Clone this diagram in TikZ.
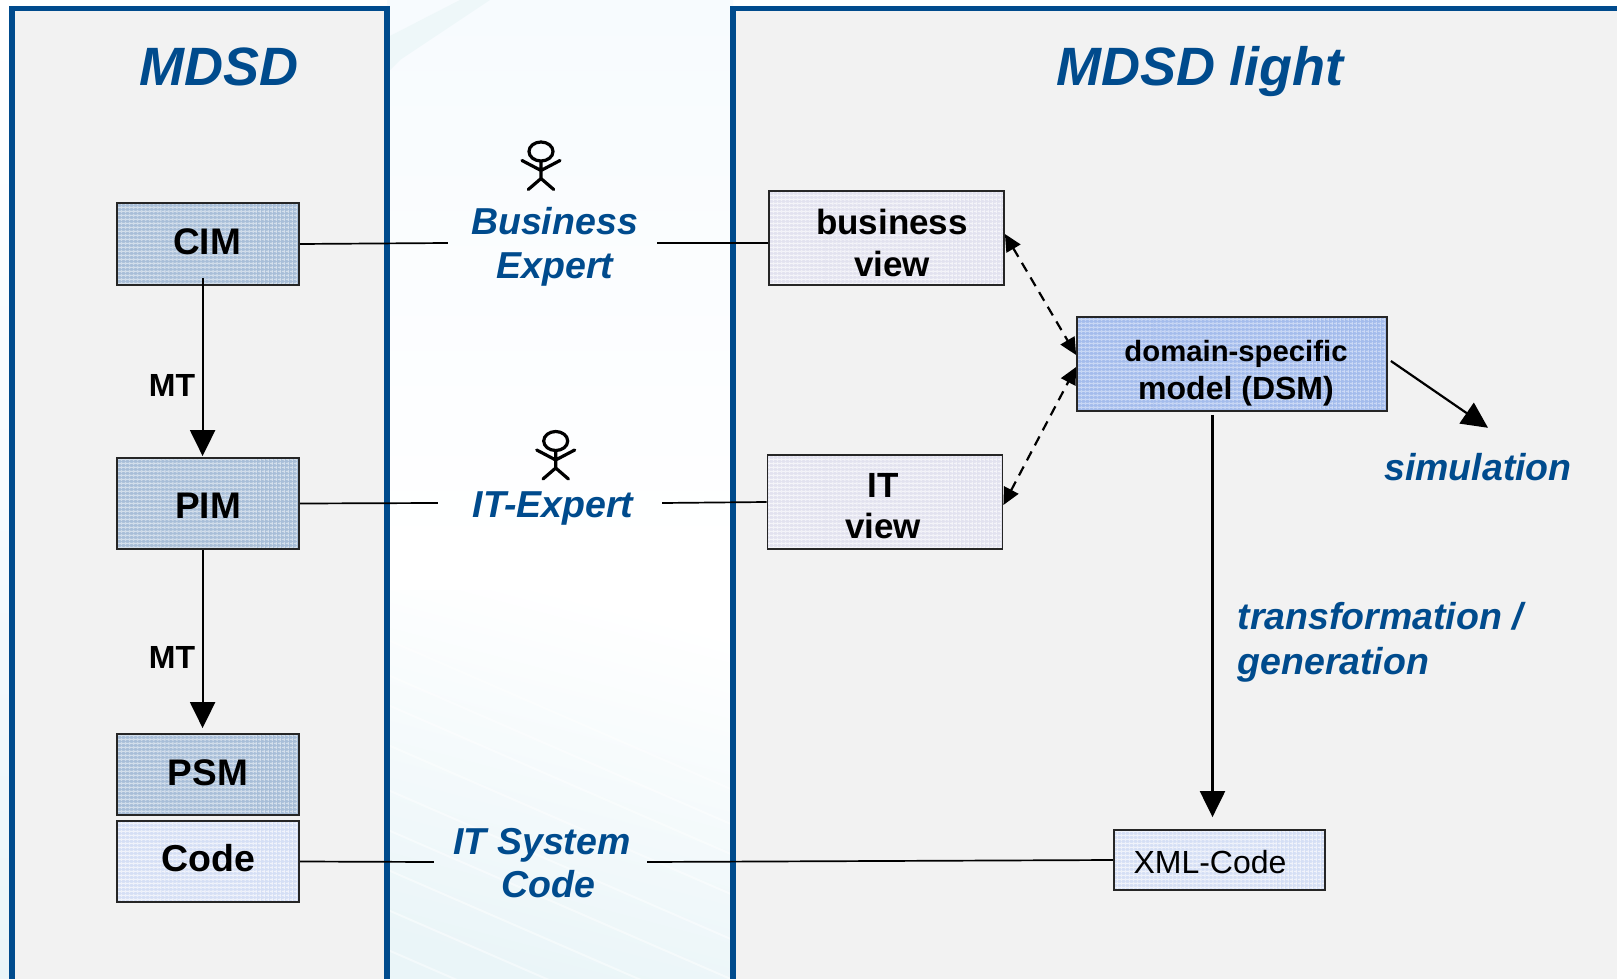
\documentclass[tikz,border=0pt]{standalone}
\usepackage{fontspec}
\setmainfont{Liberation Sans}
\usetikzlibrary{arrows.meta,patterns.meta,backgrounds}
\definecolor{navy}{HTML}{004B8D}
\definecolor{panelgrey}{HTML}{F2F2F2}
\definecolor{paleblue}{HTML}{EAF5F8}
\definecolor{palesky}{HTML}{F7FBFE}
\definecolor{cimdark}{HTML}{A8BED8}
\definecolor{cimlight}{HTML}{D2DEEB}
\definecolor{dsmdark}{HTML}{A4BCEC}
\definecolor{dsmlight}{HTML}{C8D7F5}
\definecolor{codedark}{HTML}{D5DFF5}
\definecolor{codelight}{HTML}{F0F3FB}
\definecolor{viewdark}{HTML}{E2E2EF}
\definecolor{viewlight}{HTML}{F4F4F9}
% text line placed relative to its node's centre: dx, dy (up), text
\newcommand\tl[3]{\makebox[0pt][c]{\hspace{#1pt}\hspace{#1pt}\raisebox{#2pt}[0pt][0pt]{#3}}}
\newcommand\tll[3]{\makebox[0pt][l]{\hspace{#1pt}\raisebox{#2pt}[0pt][0pt]{#3}}}
\tikzset{
  dither/.style 2 args={
    preaction={fill=#1},
    preaction={pattern={Lines[angle=0,distance=4pt,line width=1.4pt]},pattern color=#2},
    preaction={pattern={Lines[angle=90,distance=4pt,line width=1.4pt]},pattern color=#2}},
  boxbase/.style={draw=black!85,line width=1.8pt,inner sep=0pt,rectangle},
  cimbox/.style={boxbase,dither={cimdark}{cimlight},font=\bfseries\fontsize{37}{37}\selectfont,text=black},
  codebox/.style={boxbase,dither={codedark}{codelight},font=\bfseries\fontsize{37.5}{37.5}\selectfont,text=black},
  viewbox/.style={boxbase,dither={viewdark}{viewlight},font=\bfseries\fontsize{35}{35}\selectfont,text=black},
  dsmbox/.style={boxbase,dither={dsmdark}{dsmlight},font=\bfseries\fontsize{29.3}{29.3}\selectfont,text=black},
  xmlbox/.style={boxbase,dither={codedark}{codelight},font=\fontsize{32}{32}\selectfont,text=black},
  bluelabel/.style={inner sep=0pt,text=navy,font=\bfseries\itshape\fontsize{37.5}{37.5}\selectfont},
  title/.style={inner sep=0pt,text=navy,font=\bfseries\itshape\fontsize{54}{54}\selectfont},
  mtlabel/.style={inner sep=0pt,text=black,font=\bfseries\fontsize{32}{32}\selectfont},
  thin connector/.style={line width=1.7pt,draw=black},
  bigarrow/.style={line width=2.2pt,draw=black,-{Triangle[width=25pt,length=26pt]}},
  dasharrow/.style={line width=2.2pt,draw=black,dash pattern=on 10pt off 7pt,
    {Triangle[width=16pt,length=17pt]}-{Triangle[width=16pt,length=17pt]}},
  panelline/.style={line width=5.4pt,draw=navy},
  actor/.pic={
    \draw[line width=3.2pt,line cap=round,line join=round]
      (0,0) ellipse [x radius=12,y radius=9.5]
      (0,10.5) -- (0,27) (-19,9) -- (0,19) -- (19,9)
      (-12.7,38) -- (0,27) -- (12.7,38);
  }
}
\begin{document}
\begin{tikzpicture}[x=1pt,y=-1pt]
\useasboundingbox (0,0) rectangle (1617,978.5);
% boxes
\node[cimbox,minimum width=182pt,minimum height=82pt] (cim) at (208,244) {\tl{-1}{-11}{CIM}};
\node[cimbox,minimum width=182pt,minimum height=91pt] (pim) at (208,503.5) {\tl{0}{-15}{PIM}};
\node[cimbox,minimum width=182pt,minimum height=81pt] (psm) at (208,774.5) {\tl{0}{-10.5}{PSM}};
\node[codebox,minimum width=182pt,minimum height=81pt] (code) at (208,861.5) {\tl{0}{-9.5}{Code}};
\node[viewbox,minimum width=235pt,minimum height=94pt] (bizv) at (886.5,238) {\tl{5.5}{3}{business}\tl{5.5}{-39}{view}};
\node[viewbox,minimum width=235pt,minimum height=94pt] (itv) at (885,502) {\tl{-2}{4.5}{IT}\tl{-2}{-36.5}{view}};
\node[dsmbox,minimum width=310pt,minimum height=94pt] (dsm) at (1232,364) {\tl{4}{3}{domain-specific}\tl{4}{-35}{\fontsize{32}{32}\selectfont model (DSM)}};
\node[xmlbox,minimum width=211pt,minimum height=60pt] (xml) at (1219.5,860) {\tl{-9.5}{-13}{XML-Code}};
% titles and labels
\node[title] (t1) at (218.6,65) {\tl{0}{-21}{MDSD}};
\node[title] (t2) at (1200,65) {\tl{0}{-21}{MDSD light}};
\node[mtlabel,minimum width=44pt,minimum height=30pt] (mt1) at (172,385) {\tl{0}{-11}{MT}};
\node[mtlabel,minimum width=44pt,minimum height=30pt] (mt2) at (172,657) {\tl{0}{-11}{MT}};
\node[bluelabel,minimum width=209pt,minimum height=90pt] (bx) at (552.5,243) {\tl{2}{8}{Business}\tl{2.5}{-36}{Expert}};
\node[bluelabel,minimum width=224pt,minimum height=44pt] (ix) at (550,503) {\tl{3}{-14.5}{IT-Expert}};
\node[bluelabel,minimum width=213pt,minimum height=90pt] (sc) at (540.5,862) {\tl{1.5}{8}{IT System}\tl{8}{-35.5}{Code}};
\node[bluelabel,minimum width=185pt,minimum height=44pt] (sim) at (1478,450) {\tl{0}{-30}{simulation}};
\node[bluelabel] (tg) at (1237.5,651) {\tll{0}{22}{transformation /}\tll{0}{-23}{generation}};
% actors
\pic at (541,151.5) {actor};
\pic at (555.7,441) {actor};
% main-layer connectors
\draw[bigarrow] ([xshift=-5.4pt,yshift=8pt]cim.south) -- ([xshift=-5.4pt,yshift=1pt]pim.north);
\draw[bigarrow] ([xshift=-5.4pt]pim.south) -- ([xshift=-5.4pt,yshift=5pt]psm.north);
\draw[bigarrow] ([xshift=-19.5pt,yshift=-3pt]dsm.south) -- ([xshift=-7pt,yshift=12pt]xml.north);
\draw[bigarrow] ([xshift=3pt,yshift=3pt]dsm.east) -- ([xshift=10pt]sim.north);
\begin{scope}[on background layer]
  % page background
  \fill[white] (0,0) rectangle (1617,980);
  \shade[top color=white,bottom color=paleblue,middle color=palesky] (0,0) rectangle (12,980);
  \shade[top color=palesky,bottom color=white] (387,0) rectangle (733,560);
  \fill[white] (387,560) rectangle (733,980);
  \shade[shading=axis,top color=white,bottom color=paleblue,shading angle=-15] (387,590) rectangle (733,980);
  \fill[paleblue!80] (390,36) -- (460,0) -- (490,0) -- (400,60) -- (390,70) -- cycle;
  \foreach \yy in {640,675,705,745,790,830,870,910,950}
    \draw[white,line width=2pt,opacity=.45] (388,\yy) -- (733,\yy+150);
  % panels
  \fill[panelgrey] (12,8.5) rectangle (387,980);
  \fill[panelgrey] (733,8.5) rectangle (1617,980);
  \draw[panelline] (12,980) -- (12,8.5) -- (387,8.5) -- (387,980);
  \draw[panelline] (733,980) -- (733,8.5) -- (1617,8.5);
  % connectors that run beneath the boxes
  \draw[thin connector] (cim.east) -- (bx.west);
  \draw[thin connector] (bx.east) -- ([yshift=-5pt]bizv.west);
  \draw[thin connector] (pim.east) -- (ix.west);
  \draw[thin connector] (ix.east) -- (itv.west);
  \draw[thin connector] (code.east) -- (sc.west);
  \draw[thin connector] (sc.east) -- (xml.west);
  \draw[dasharrow] ([yshift=4pt]bizv.east) -- ([yshift=9pt]dsm.west);
  \draw[dasharrow] ([yshift=-3pt]itv.east) -- ([yshift=-3pt]dsm.west);
\end{scope}
\end{tikzpicture}
\end{document}
